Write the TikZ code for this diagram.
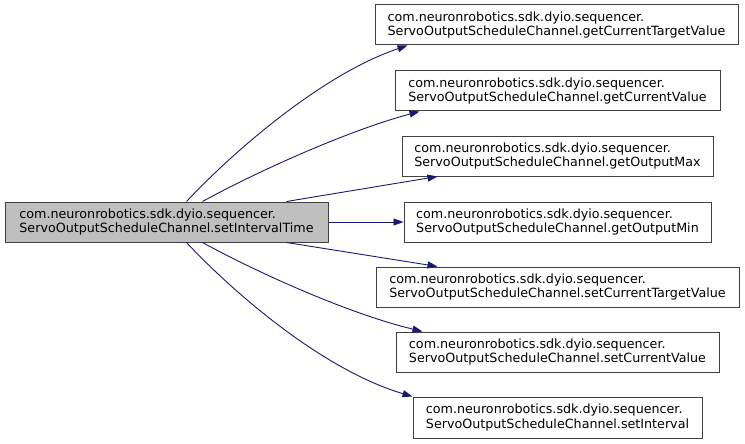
\documentclass[tikz,border=0pt]{standalone}
\usepackage{fontspec}
\setmainfont{DejaVu Sans}
\usetikzlibrary{arrows.meta,calc}
\definecolor{edgecol}{HTML}{191970}
\definecolor{rootfill}{HTML}{BFBFBF}
\definecolor{boxline}{HTML}{404040}
\begin{document}
\begin{tikzpicture}[x=1pt,y=-1pt,
  box/.style={draw=boxline,line width=1pt,fill=white,minimum height=40pt,inner sep=0pt,align=left,font=\fontsize{12.7}{14.5}\selectfont},
  rootbox/.style={box,fill=rootfill},
  edge/.style={draw=edgecol,line width=0.9pt,-{Triangle[length=10pt,width=7pt]}}]
\useasboundingbox (0,0) rectangle (745,444);
\node[rootbox,minimum width=323pt] (root) at (166.5,222) {com.neuronrobotics.sdk.dyio.sequencer.\\ServoOutputScheduleChannel.setIntervalTime};
\node[box,minimum width=363pt] (n1) at (556.5,25) {com.neuronrobotics.sdk.dyio.sequencer.\\ServoOutputScheduleChannel.getCurrentTargetValue};
\node[box,minimum width=325pt] (n2) at (557.5,91) {com.neuronrobotics.sdk.dyio.sequencer.\\ServoOutputScheduleChannel.getCurrentValue};
\node[box,minimum width=311pt] (n3) at (557.5,156) {com.neuronrobotics.sdk.dyio.sequencer.\\ServoOutputScheduleChannel.getOutputMax};
\node[box,minimum width=307pt] (n4) at (557.5,222) {com.neuronrobotics.sdk.dyio.sequencer.\\ServoOutputScheduleChannel.getOutputMin};
\node[box,minimum width=363pt] (n5) at (557.5,287) {com.neuronrobotics.sdk.dyio.sequencer.\\ServoOutputScheduleChannel.setCurrentTargetValue};
\node[box,minimum width=323pt] (n6) at (557.5,352) {com.neuronrobotics.sdk.dyio.sequencer.\\ServoOutputScheduleChannel.setCurrentValue};
\node[box,minimum width=289pt,minimum height=41pt] (n7) at (557.5,417.5) {com.neuronrobotics.sdk.dyio.sequencer.\\ServoOutputScheduleChannel.setInterval};
\draw[edge] ([xshift=182pt]root.north west) .. controls (230,155) and (320,75) .. ([xshift=33pt]n1.south west);
\draw[edge] ([xshift=198pt]root.north west) .. controls (260,170) and (350,130) .. ([xshift=25pt]n2.south west);
\draw[edge] ([xshift=282pt]root.north west) -- ([xshift=36pt]n3.south west);
\draw[edge] (root.east) -- (n4.west);
\draw[edge] ([xshift=282pt]root.south west) -- ([xshift=62pt]n5.north west);
\draw[edge] ([xshift=198pt]root.south west) .. controls (260,274) and (350,314) .. ([xshift=27pt]n6.north west);
\draw[edge] ([xshift=182pt]root.south west) .. controls (230,289) and (320,369) .. (n7.north west);
\end{tikzpicture}
\end{document}
